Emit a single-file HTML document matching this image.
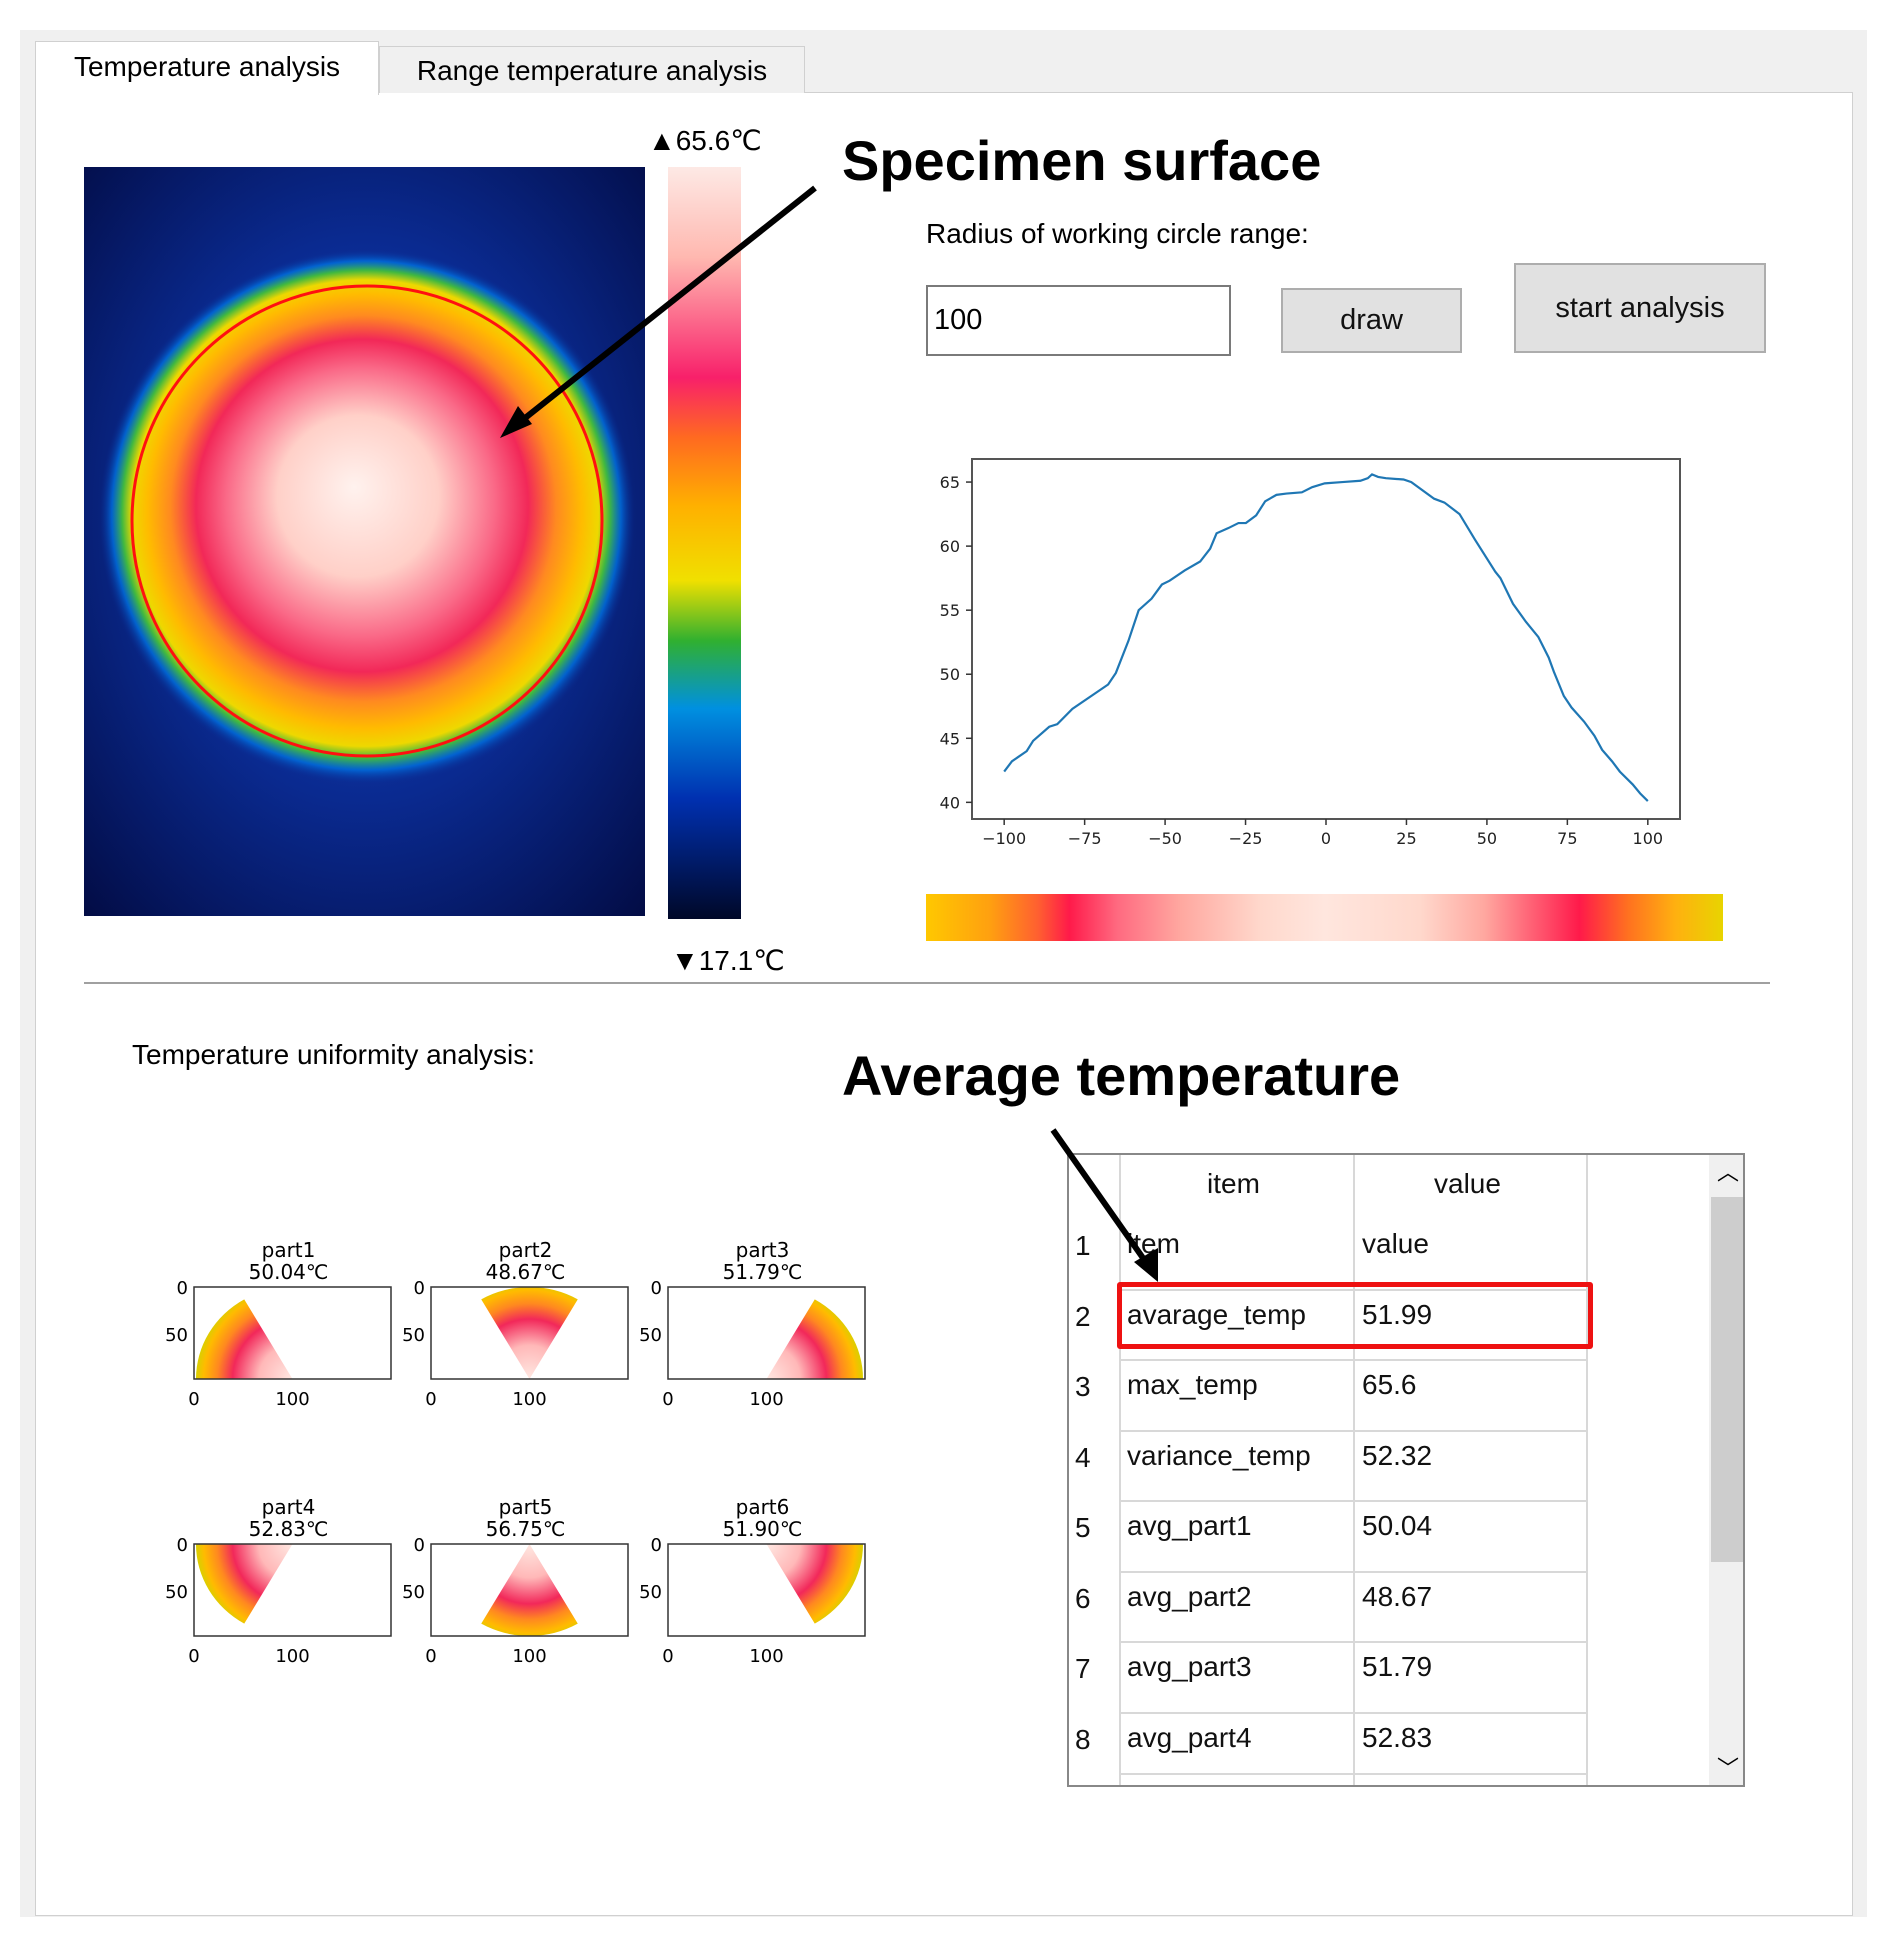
<!DOCTYPE html>
<html><head><meta charset="utf-8">
<style>
body{margin:0;width:1889px;height:1940px;background:#fff;font-family:"Liberation Sans","DejaVu Sans",sans-serif;position:relative;overflow:hidden}
.abs{position:absolute}
.btn{position:absolute;background:#e1e1e1;border:2px solid #adadad;box-sizing:border-box;display:flex;align-items:center;justify-content:center;font-size:29px;color:#111}
.cell{position:absolute;font-size:28px;color:#111}
</style></head>
<body>
<div class="abs" style="left:20px;top:30px;width:1847px;height:1887px;background:#f0f0f0"></div>
<div class="abs" style="left:35px;top:92px;width:1816px;height:1822px;background:#fff;border:1px solid #d0d0d0"></div>
<div class="abs" style="left:35px;top:41px;width:342px;height:53px;background:#fff;border:1px solid #d0d0d0;border-bottom:none;font-size:28px;line-height:50px;text-align:center">Temperature analysis</div>
<div class="abs" style="left:379px;top:46px;width:424px;height:46px;background:#f0f0f0;border:1px solid #d0d0d0;border-bottom:none;font-size:28px;line-height:48px;text-align:center">Range temperature analysis</div>

<svg class="abs" style="left:84px;top:167px" width="561" height="749">
<defs>
<radialGradient id="bg" cx="0.5" cy="0.47" r="0.75"><stop offset="0" stop-color="#1a48c8"/><stop offset="0.5" stop-color="#0a2a90"/><stop offset="1" stop-color="#020a40"/></radialGradient>
<radialGradient id="disk" cx="283" cy="350" r="268" gradientUnits="userSpaceOnUse" fx="270" fy="320">
<stop offset="0" stop-color="#fff2ee"/><stop offset="0.3" stop-color="#ffd0c8"/><stop offset="0.5" stop-color="#fa6a88"/><stop offset="0.62" stop-color="#f22858"/><stop offset="0.72" stop-color="#ff8a20"/><stop offset="0.81" stop-color="#ffbb00"/><stop offset="0.87" stop-color="#eed800"/><stop offset="0.91" stop-color="#40b840"/><stop offset="0.95" stop-color="#0070e0" stop-opacity="0.8"/><stop offset="1" stop-color="#0a2a90" stop-opacity="0"/></radialGradient>
</defs>
<rect width="561" height="749" fill="url(#bg)"/>
<circle cx="283" cy="350" r="268" fill="url(#disk)"/>
<circle cx="283" cy="354" r="235" fill="none" stroke="#ff1010" stroke-width="3"/>
</svg>

<div class="abs" style="left:668px;top:167px;width:73px;height:752px;background:linear-gradient(#fde9e5 0%,#ffb8b0 12%,#f8206a 28%,#ff6a20 36%,#ffb000 45%,#f0e000 55%,#30b030 63%,#0090e0 72%,#0030b0 84%,#000828 100%)"></div>
<div class="abs" style="left:648px;top:124px;font-size:28px">▲65.6℃</div>
<div class="abs" style="left:671px;top:944px;font-size:28px">▼17.1℃</div>

<div class="abs" style="left:842px;top:128px;font-size:56px;font-weight:bold">Specimen surface</div>

<div class="abs" style="left:926px;top:218px;font-size:28px">Radius of working circle range:</div>
<div class="abs" style="left:926px;top:285px;width:305px;height:71px;border:2px solid #7a7a7a;box-sizing:border-box;background:#fff;font-size:29px;line-height:67px;padding-left:6px">100</div>
<div class="btn" style="left:1281px;top:288px;width:181px;height:65px">draw</div>
<div class="btn" style="left:1514px;top:263px;width:252px;height:90px">start analysis</div>

<svg class="abs" id="chart" style="left:0;top:0" width="1889" height="1000"></svg>

<div class="abs" style="left:926px;top:894px;width:797px;height:47px;background:linear-gradient(90deg,#ffc800 0%,#ffa010 8%,#ff6030 14%,#ff1a4a 18%,#ff6a80 24%,#ffa8a0 32%,#ffd8cc 42%,#ffe6de 50%,#ffd8cc 62%,#ffa8a0 70%,#ff1a4a 82%,#ff7020 88%,#ffb010 94%,#e8d400 100%)"></div>
<div class="abs" style="left:84px;top:982px;width:1686px;height:2px;background:#a0a0a0"></div>

<div class="abs" style="left:132px;top:1039px;font-size:28px">Temperature uniformity analysis:</div>
<div class="abs" style="left:842px;top:1043px;font-size:56px;font-weight:bold">Average temperature</div>

<svg class="abs" id="parts" style="left:0;top:0" width="900" height="1700"></svg>

<div class="abs" style="left:1067px;top:1153px;width:678px;height:634px;border:2px solid #888;box-sizing:border-box;background:#fff;overflow:hidden">
<div class="abs" style="left:640px;top:0;width:36px;height:634px;background:#f0f0f0"></div>
<div class="abs" style="left:642px;top:42px;width:32px;height:365px;background:#cdcdcd"></div>
<div class="abs" style="left:648px;top:0;font-size:22px">︿</div>
<div class="abs" style="left:648px;top:596px;font-size:22px">﹀</div>
</div>
<div id="tbl"></div>

<svg class="abs" style="left:0;top:0" width="1889" height="1940">
<line x1="815" y1="188" x2="515" y2="426" stroke="#000" stroke-width="6"/>
<polygon points="500,438 518,406 532,424" fill="#000"/>
<line x1="1053" y1="1130" x2="1150" y2="1268" stroke="#000" stroke-width="6"/>
<polygon points="1158,1282 1134,1262 1158,1248" fill="#000"/>
</svg>

<script>
const xs=[-100,-97.6,-93,-91,-86,-83.5,-78.8,-67.7,-65.3,-61.4,-58.2,-54.2,-51,-48.6,-43.9,-39.1,-36,-34,-30.4,-27.2,-24.9,-21.7,-18.9,-15.4,-12.3,-7.5,-4.3,-0.4,5.1,10.7,13,14.3,16.2,18.6,24.1,26.5,33.6,36.8,41.5,46.3,52.6,54.2,58.1,62.1,66,69.2,70.8,73.9,76.3,80.2,83.4,85.8,88.9,91.3,95.3,97.6,100];
const temps=[42.4,43.2,44.0,44.8,45.9,46.1,47.3,49.2,50.1,52.6,55.0,55.9,57.0,57.3,58.1,58.8,59.8,61.0,61.4,61.8,61.8,62.4,63.5,64.0,64.1,64.2,64.6,64.9,65.0,65.1,65.3,65.6,65.4,65.3,65.2,65.0,63.7,63.4,62.5,60.5,58.0,57.5,55.5,54.1,52.9,51.3,50.2,48.3,47.4,46.3,45.2,44.1,43.2,42.4,41.4,40.7,40.1];
const xTicks=[-100,-75,-50,-25,0,25,50,75,100];
const yTicks=[40,45,50,55,60,65];
const partNames=["part1","part2","part3","part4","part5","part6"];
const partTemps=["50.04","48.67","51.79","52.83","56.75","51.90"];
const tableItems=["item","avarage_temp","max_temp","variance_temp","avg_part1","avg_part2","avg_part3","avg_part4"];
const tableValues=["value","51.99","65.6","52.32","50.04","48.67","51.79","52.83"];

const NS="http://www.w3.org/2000/svg";
function mk(parent,tag,attrs){const e=document.createElementNS(NS,tag);for(const k in attrs)e.setAttribute(k,attrs[k]);parent.appendChild(e);return e;}
const L=972,R=1680,T=459,B=819;
const sx=v=>L+(v+110)/220*(R-L);
const sy=v=>T+(66.8-v)/28.1*(B-T);
const ch=document.getElementById('chart');
const frame=mk(ch,'rect',{x:L,y:T,width:R-L,height:B-T,fill:'#fff',stroke:'#555','stroke-width':2});


xTicks.forEach(t=>{
  const l=mk(ch,'line',{x1:sx(t),x2:sx(t),y1:B,y2:B+6,stroke:'#333','stroke-width':1.5});
  
  
  const tx=mk(ch,'text',{x:sx(t),y:B+25,'text-anchor':'middle','font-size':16,'font-family':'DejaVu Sans, sans-serif',fill:'#222'});
  tx.textContent=(t<0?'\u2212'+(-t):t);
  
  
});
yTicks.forEach(t=>{
  const l=mk(ch,'line',{x1:L-6,x2:L,y1:sy(t),y2:sy(t),stroke:'#333','stroke-width':1.5});
  
  
  const tx=mk(ch,'text',{x:L-12,y:sy(t)+6,'text-anchor':'end','font-size':16,'font-family':'DejaVu Sans, sans-serif',fill:'#222'});
  tx.textContent=t;
  
  
});
const line=mk(ch,'polyline',{points:xs.map((x,i)=>sx(x)+','+sy(temps[i])).join(' '),fill:'none',stroke:'#1f77b4','stroke-width':2.2});



// part plots
const P=document.getElementById('parts');
const defs=mk(P,'defs',{});
const gx=[194,431,668], gy=[1287,1544], W=197, H=92;
partNames.forEach((name,i)=>{
  const col=i%3,row=Math.floor(i/3);
  const x0=gx[col],y0=gy[row];
  const px=u=>x0+u/200*W, py=v=>y0+v/98*H;
  const cy=row===0?98:0;
  const gid='g'+i;
  const rg=mk(defs,'radialGradient',{id:gid,cx:px(100),cy:py(cy),r:98/200*W,gradientUnits:'userSpaceOnUse'});
  [[0,'#ffe8e2'],[0.35,'#ffb8b8'],[0.62,'#f2285a'],[0.78,'#ff8820'],[0.92,'#ffbb00'],[1,'#d8d000']].forEach(s=>mk(rg,'stop',{offset:s[0],'stop-color':s[1]}));
  const g=mk(P,'g',{});
  
  
  mk(g,'rect',{x:x0,y:y0,width:W,height:H,fill:'#fff'});
  const a0=[180,120,60,180,240,300][i]*Math.PI/180, a1=[120,60,0,240,300,360][i]*Math.PI/180;
  const r=98;
  const p=(a)=>[px(100+r*Math.cos(a)),py(cy-r*Math.sin(a))];
  const A=p(a0),Bp=p(a1);
  const sweep=row===0?1:0;
  const sec=mk(g,'path',{d:`M${px(100)},${py(cy)} L${A[0]},${A[1]} A${r/200*W},${r/98*H} 0 0 ${sweep} ${Bp[0]},${Bp[1]} Z`,fill:`url(#${gid})`});
  
  
  mk(g,'rect',{x:x0,y:y0,width:W,height:H,fill:'none',stroke:'#333','stroke-width':1.5});
  const t1=mk(g,'text',{x:x0+W/2-4,y:y0-30,'text-anchor':'middle','font-size':20,'font-family':'DejaVu Sans, sans-serif'});
  t1.textContent=name;
  const t2=mk(g,'text',{x:x0+W/2-4,y:y0-8,'text-anchor':'middle','font-size':20,'font-family':'DejaVu Sans, sans-serif'});
  t2.textContent=partTemps[i]+'℃';
  [[0,'0'],[100,'100']].forEach(([u,s])=>{const t=mk(g,'text',{x:px(u),y:y0+H+26,'text-anchor':'middle','font-size':18,'font-family':'DejaVu Sans, sans-serif'});t.textContent=s;});
  [[0,'0'],[50,'50']].forEach(([v,s])=>{const t=mk(g,'text',{x:x0-6,y:py(v)+7,'text-anchor':'end','font-size':18,'font-family':'DejaVu Sans, sans-serif'});t.textContent=s;});
});

// table
const tb=document.getElementById('tbl');
function cell(txt,l,t,name){const d=document.createElement('div');d.className='cell';d.style.left=l+'px';d.style.top=t+'px';d.textContent=txt;


tb.appendChild(d);}
function hl(l,t,w,h,name){const d=document.createElement('div');d.className='abs';d.style.cssText=`left:${l}px;top:${t}px;width:${w}px;height:${h}px;background:#d8d8d8`;


tb.appendChild(d);}
hl(1119,1155,2,630,'grid-col-1');hl(1353,1155,2,630,'grid-col-2');hl(1586,1155,2,630,'grid-col-3');
cell('item',1207,1168,'header-item');cell('value',1434,1168,'header-value');
tableItems.forEach((it,i)=>{
  const top=1230+i*70.5;
  if(i>0) hl(1119,top-12,469,2,'row-line');
  cell(String(i+1),1075,top,'row-number');
  cell(it,1127,top-2,'item-cell');
  cell(tableValues[i],1362,top-2,'value-cell');
});
hl(1119,1773,469,2,'row-line');
const rb=document.createElement('div');rb.className='abs';rb.style.cssText='left:1117px;top:1282px;width:476px;height:67px;border:5px solid #ee1111;box-sizing:border-box;border-radius:3px';


tb.appendChild(rb);
</script>
</body></html>
